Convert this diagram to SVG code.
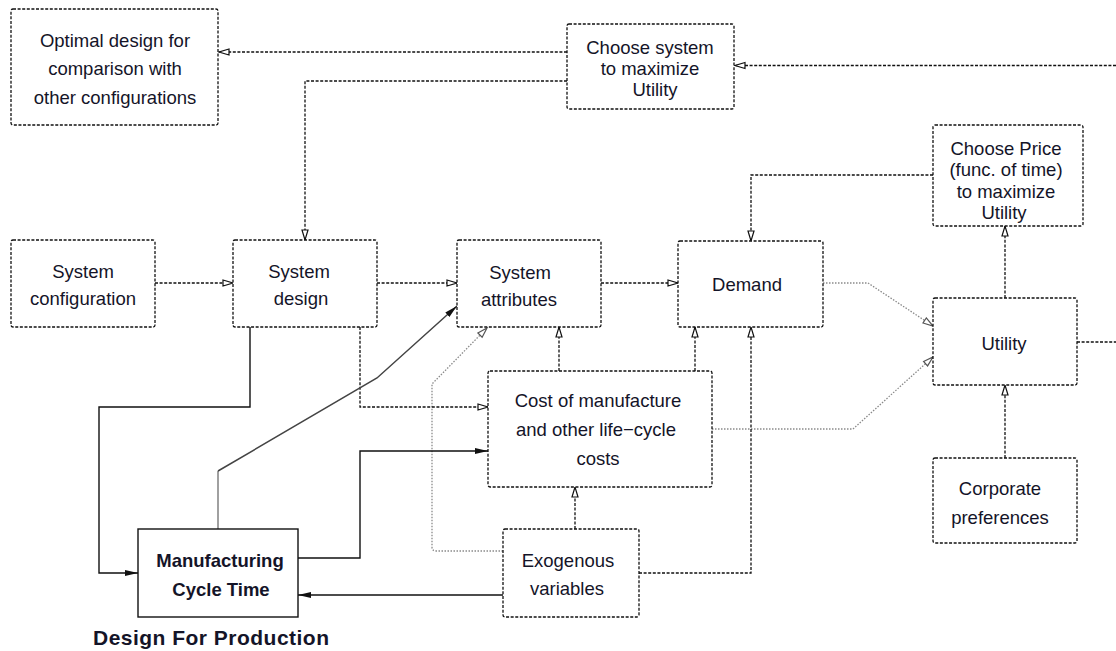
<svg xmlns="http://www.w3.org/2000/svg" width="1116" height="651" viewBox="0 0 1116 651">
<style>
  .box { fill: #fff; stroke: #111; stroke-width: 1.3; stroke-dasharray: 3 1.6; }
  .sbox { fill: #fff; stroke: #111; stroke-width: 1.4; }
  .t { font-family: "Liberation Sans", Arial, sans-serif; font-size: 18.5px; fill: #141428; text-anchor: middle; }
  .b { font-weight: bold; font-size: 18.5px; }
  .dash { fill: none; stroke: #111; stroke-width: 1.3; stroke-dasharray: 3 1.6; }
  .gdot { fill: none; stroke: #8a8a8a; stroke-width: 1.3; stroke-dasharray: 1.5 1.5; }
  .solid { fill: none; stroke: #111; stroke-width: 1.4; }
</style>
<defs>
  <marker id="open" markerUnits="userSpaceOnUse" markerWidth="14" markerHeight="10" refX="11" refY="4" orient="auto">
    <path d="M1,1 L11,4 L1,7 Z" fill="#fff" stroke="#111" stroke-width="1.2"/>
  </marker>
  <marker id="openg" markerUnits="userSpaceOnUse" markerWidth="14" markerHeight="10" refX="11" refY="4" orient="auto">
    <path d="M1,1 L11,4 L1,7 Z" fill="#fff" stroke="#555" stroke-width="1.2"/>
  </marker>
  <marker id="fill" markerUnits="userSpaceOnUse" markerWidth="16" markerHeight="10" refX="13" refY="4" orient="auto">
    <path d="M0,1 L13,4 L0,7 Z" fill="#111"/>
  </marker>
</defs>

<g id="connectors">
  <path class="dash" d="M567,52 H219" marker-end="url(#open)"/>
  <path class="dash" d="M567,81 H305 V240" marker-end="url(#open)"/>
  <path class="dash" d="M1116,65.5 H735" marker-end="url(#open)"/>
  <path class="dash" d="M1077,342 H1116"/>
  <path class="dash" d="M1005,298 V226" marker-end="url(#open)"/>
  <path class="dash" d="M1005,458 V385" marker-end="url(#open)"/>
  <path class="dash" d="M933,175 H751 V241" marker-end="url(#open)"/>
  <path class="dash" d="M155,283 H233" marker-end="url(#open)"/>
  <path class="dash" d="M377,283 H457" marker-end="url(#open)"/>
  <path class="dash" d="M601,283 H678" marker-end="url(#open)"/>
  <path class="gdot" d="M823,283 H868 L933,326" marker-end="url(#openg)"/>
  <path class="gdot" d="M712,429 H853 L933,357" marker-end="url(#openg)"/>
  <path class="dash" d="M559,371 V327" marker-end="url(#open)"/>
  <path class="dash" d="M695,371 V327" marker-end="url(#open)"/>
  <path class="dash" d="M639,573 H751 V327" marker-end="url(#open)"/>
  <path class="dash" d="M575,529 V487" marker-end="url(#open)"/>
  <path class="gdot" d="M503,551 H436 Q432,551 432,547 V384 L487,328" marker-end="url(#openg)"/>
  <path class="dash" d="M360,327 V407 H488" marker-end="url(#open)"/>
  <path class="solid" d="M250,327 V407 H99 V573 H138" marker-end="url(#fill)"/>
  <path fill="none" stroke="#a0a0a0" stroke-width="2" d="M218,529 V471"/>
  <path fill="none" stroke="#444" stroke-width="1.5" d="M218,471 L377,378 L457,306" marker-end="url(#fill)"/>
  <path class="solid" d="M298,558 H360 V451 H488" marker-end="url(#fill)"/>
  <path class="solid" d="M503,595 H298" marker-end="url(#fill)"/>
</g>

<g id="optimal">
  <rect class="box" x="11" y="9" width="207" height="116" rx="2"/>
  <text class="t" x="115" y="46.5">Optimal design for</text>
  <text class="t" x="115" y="74.5">comparison with</text>
  <text class="t" x="115" y="103.5">other configurations</text>
</g>
<g id="choose-system">
  <rect class="box" x="567" y="24" width="167" height="85" rx="2"/>
  <text class="t" x="650" y="53.5">Choose system</text>
  <text class="t" x="650" y="74.5">to maximize</text>
  <text class="t" x="655" y="95.5">Utility</text>
</g>
<g id="choose-price">
  <rect class="box" x="933" y="125" width="150" height="101" rx="2"/>
  <text class="t" x="1006" y="154.5">Choose Price</text>
  <text class="t" x="1006" y="175.5">(func. of time)</text>
  <text class="t" x="1006" y="197.5">to maximize</text>
  <text class="t" x="1004" y="218.5">Utility</text>
</g>
<g id="system-config">
  <rect class="box" x="11" y="240" width="144" height="87" rx="2"/>
  <text class="t" x="83" y="277.5">System</text>
  <text class="t" x="83" y="304.5">configuration</text>
</g>
<g id="system-design">
  <rect class="box" x="233" y="240" width="144" height="87" rx="2"/>
  <text class="t" x="299" y="277.5">System</text>
  <text class="t" x="301" y="304.5">design</text>
</g>
<g id="system-attributes">
  <rect class="box" x="457" y="240" width="144" height="87" rx="2"/>
  <text class="t" x="520" y="278.5">System</text>
  <text class="t" x="519" y="305.5">attributes</text>
</g>
<g id="demand">
  <rect class="box" x="678" y="241" width="145" height="86" rx="2"/>
  <text class="t" x="747" y="290.5">Demand</text>
</g>
<g id="utility">
  <rect class="box" x="933" y="298" width="144" height="87" rx="2"/>
  <text class="t" x="1004" y="349.5">Utility</text>
</g>
<g id="cost">
  <rect class="box" x="488" y="371" width="224" height="116" rx="2"/>
  <text class="t" x="598" y="406.5">Cost of manufacture</text>
  <text class="t" x="596" y="435.5">and other life−cycle</text>
  <text class="t" x="598" y="464.5">costs</text>
</g>
<g id="corporate">
  <rect class="box" x="933" y="458" width="144" height="85" rx="2"/>
  <text class="t" x="1000" y="494.5">Corporate</text>
  <text class="t" x="1000" y="523.5">preferences</text>
</g>
<g id="mct">
  <rect class="sbox" x="138" y="529" width="160" height="88"/>
  <text class="t b" x="220" y="566.5">Manufacturing</text>
  <text class="t b" x="221" y="595.5">Cycle Time</text>
</g>
<g id="exogenous">
  <rect class="box" x="503" y="529" width="136" height="88" rx="2"/>
  <text class="t" x="568" y="566.5">Exogenous</text>
  <text class="t" x="567" y="594.5">variables</text>
</g>
<g id="label">
  <text class="t" x="211" y="645" style="font-weight:bold;font-size:21px" textLength="236" lengthAdjust="spacing">Design For Production</text>
</g>
</svg>
